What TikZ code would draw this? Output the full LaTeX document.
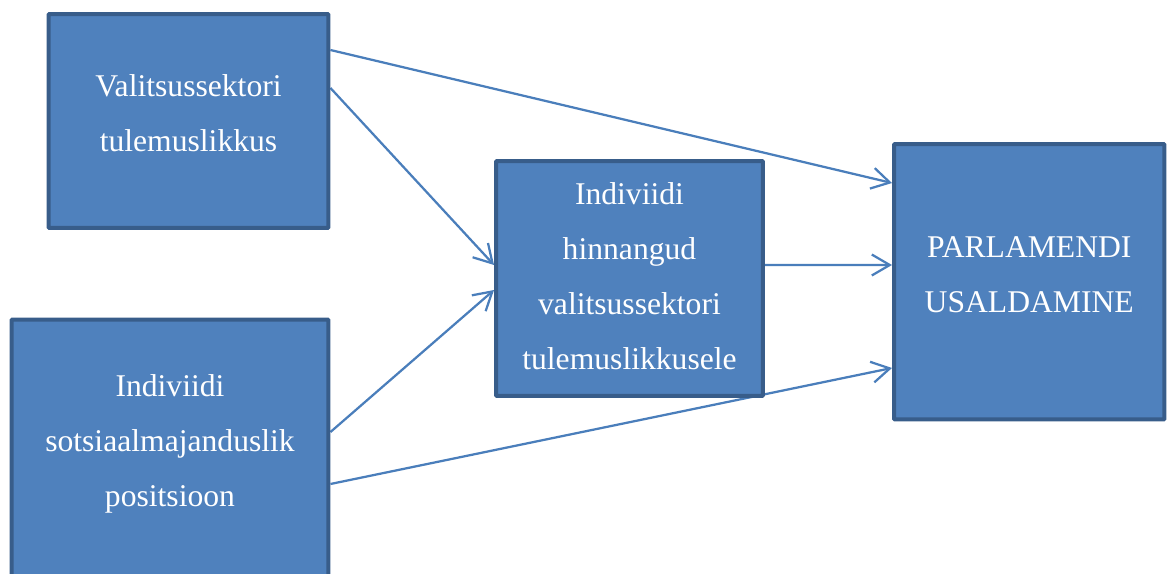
\documentclass[tikz,border=0pt]{standalone}
\usepackage{fontspec}
\setmainfont{Liberation Serif}
\usetikzlibrary{positioning,arrows.meta,backgrounds}
\definecolor{boxfill}{HTML}{4F81BD}
\definecolor{boxline}{HTML}{385D8A}
\definecolor{arrowline}{HTML}{4A7EBB}
\begin{document}
\begin{tikzpicture}
	[x=0.02cm, y=-0.02cm,
	box/.style={rectangle, fill=boxfill, draw=boxline,
		line width=0.08cm, rounded corners=0.5pt},
	txt/.style={text=white, align=center, inner sep=0pt,
		font=\fontsize{18}{31.2}\selectfont},
	pil/.style={draw=arrowline, line width=0.045cm,
		-{Straight Barb[length=0.36cm, width=0.42cm]}}]
	\useasboundingbox (0,0) rectangle (1171,574);
	\clip (0,0) rectangle (1171,574);
	% kastid
	\node[box, minimum width=5.6cm, minimum height=4.28cm] (vs) at (188.5,121) {};
	\node[box, minimum width=6.34cm, minimum height=6.01cm] (sp) at (170,469.75) {};
	\node[box, minimum width=5.34cm, minimum height=4.7cm] (ih) at (629.5,278.5) {};
	\node[box, minimum width=5.41cm, minimum height=5.51cm] (pu) at (1029.25,281.75) {};
	% tekstid
	\node[txt, below=1.25cm of vs.north] (vst) {Valitsussektori\\tulemuslikkus};
	\node[txt, below=1.14cm of sp.north] (spt) {Indiviidi\\sotsiaalmajanduslik\\positsioon};
	\node[txt, below=0.47cm of ih.north] (iht) {Indiviidi\\hinnangud\\valitsussektori\\tulemuslikkusele};
	\node[txt, below=1.88cm of pu.north] (put) {PARLAMENDI\\USALDAMINE};
	% nooled
	\begin{scope}[on background layer]
		\draw[pil] ([yshift=1.42cm]vs.east) -- ([yshift=1.975cm]pu.west);
		\draw[pil] ([yshift=0.66cm]vs.east) -- ([yshift=0.27cm]ih.west);
		\draw[pil] ([yshift=0.755cm]sp.east) -- ([yshift=-0.23cm]ih.west);
		\draw[pil] ([yshift=0.27cm]ih.east) -- ([yshift=0.335cm]pu.west);
		\draw[pil] ([yshift=-0.285cm]sp.east) -- ([yshift=-1.725cm]pu.west);
	\end{scope}
\end{tikzpicture}
\end{document}
